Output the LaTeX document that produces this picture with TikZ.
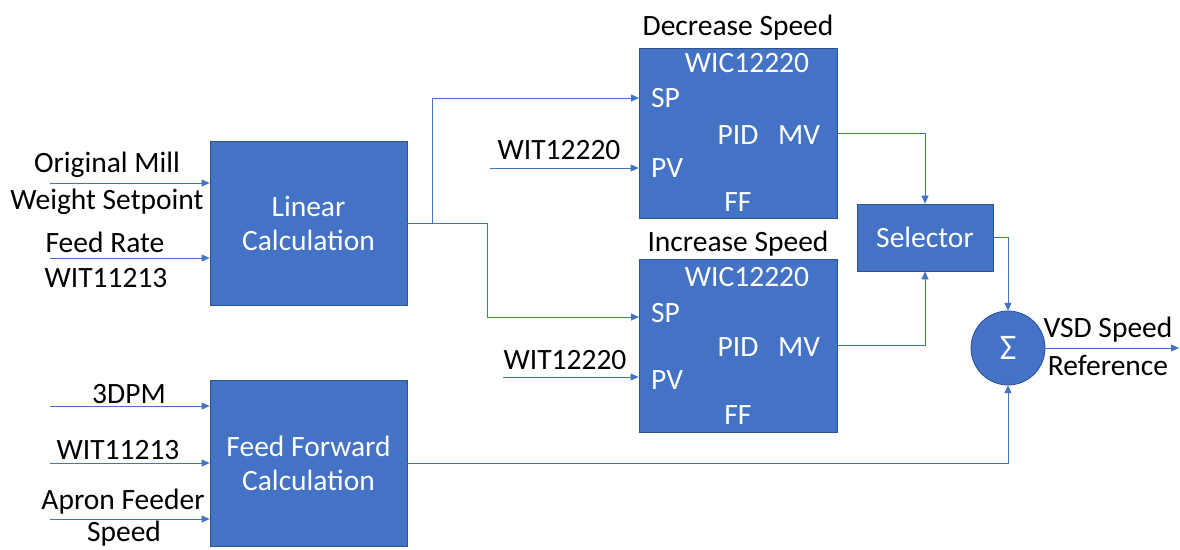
\documentclass[tikz,border=0pt]{standalone}
\usepackage{fontspec}
\setmainfont{Carlito}
\usetikzlibrary{arrows.meta}

\definecolor{offblue}{HTML}{4472C4}
\definecolor{offedge}{HTML}{2F528F}

\tikzset{
	blk/.style = {draw = offedge, line width = .8pt, fill = offblue, text = white, align = center, inner sep = 0pt},
	flow/.style = {draw = offblue, line width = .8pt, -{Triangle[length = 8pt, width = 7pt]}},
	wire/.style = {draw = offblue, line width = .8pt},
	lbl/.style = {inner sep = 0pt, align = center},
	port/.style = {inner sep = 0pt, text = white}
}

\begin{document}
\begin{tikzpicture}[x = 1pt, y = -1pt, font = \fontsize{29.5}{34}\selectfont]
	\useasboundingbox (0,0) rectangle (1180,549);
	% blocks
	\node [blk, minimum width = 197, minimum height = 164] (lin) at (308.5,223) {Linear\\Calculation};
	\node [blk, minimum width = 197, minimum height = 166] (ff) at (308.5,463) {Feed Forward\\Calculation};
	\node [blk, minimum width = 198, minimum height = 170] (dpid) at (738,133) {};
	\node [blk, minimum width = 198, minimum height = 173] (ipid) at (738,345.5) {};
	\node [blk, minimum width = 136, minimum height = 67] (sel) at (925,237.5) {Selector};
	\draw [offedge, line width = .8pt, fill = offblue] (1008,348) circle [radius = 37];
	\node [port, minimum size = 74, font = \fontsize{36}{36}\selectfont] (sum) at (1008,348) {Σ};

	% pid ports
	\node [port] (dtag) at (747,63) {WIC12220};
	\node [port, anchor = west] (dsplbl) at (651,98) {SP};
	\node [port] (dpidlbl) at (738,135) {PID};
	\node [port] (dmv) at (799,135) {MV};
	\node [port, anchor = west] (dpvlbl) at (651,168) {PV};
	\node [port] (dfflbl) at (738,202) {FF};
	\node [port] (itag) at (747,277) {WIC12220};
	\node [port, anchor = west] (isplbl) at (651,313) {SP};
	\node [port] (ipidlbl) at (738,347) {PID};
	\node [port] (imv) at (799,347) {MV};
	\node [port, anchor = west] (ipvlbl) at (651,380) {PV};
	\node [port] (ifflbl) at (738,415) {FF};

	% titles
	\node [lbl] (dtitle) at (738,28) {Decrease Speed};
	\node [lbl] (ititle) at (738,244) {Increase Speed};

	% input labels
	\node [lbl] (omlbl) at (107,165) {Original Mill};
	\node [lbl] (wslbl) at (107,202) {Weight Setpoint};
	\node [lbl] (frlbl) at (105,242) {Feed Rate};
	\node [lbl] (wit1lbl) at (106,278) {WIT11213};
	\node [lbl] (dpmlbl) at (129,394) {3DPM};
	\node [lbl] (wit2lbl) at (118,450) {WIT11213};
	\node [lbl] (aflbl) at (123,502) {Apron Feeder};
	\node [lbl] (splbl) at (124,534) {Speed};
	\node [lbl] (wdlbl) at (559,150) {WIT12220};
	\node [lbl] (wilbl) at (565,360) {WIT12220};
	\node [lbl] (vsdlbl) at (1108,330) {VSD Speed};
	\node [lbl] (reflbl) at (1108,365) {Reference};

	% free ends
	\coordinate (in1) at (50,183);
	\coordinate (in2) at (50,258);
	\coordinate (in3) at (50,406);
	\coordinate (in4) at (50,463);
	\coordinate (in5) at (50,519);
	\coordinate (wd) at (490,168);
	\coordinate (wi) at (503,377);
	\coordinate (dsp) at (639,98);
	\coordinate (isp) at (639,317);
	\coordinate (out) at (1179,348);

	% connectors
	\draw [flow] (in1) -- (lin.west |- in1);
	\draw [flow] (in2) -- (lin.west |- in2);
	\draw [flow] (in3) -- (ff.west |- in3);
	\draw [flow] (in4) -- (ff.west |- in4);
	\draw [flow] (in5) -- (ff.west |- in5);
	\draw [flow] (lin.east) -- (432,223) |- (dsp);
	\draw [flow] (lin.east) -| (487,317) -- (isp);
	\draw [flow] (wd) -- (dpid.west |- wd);
	\draw [flow] (wi) -- (ipid.west |- wi);
	\draw [flow] (dpid.east) -| (sel.north);
	\draw [flow] (ipid.east) -| (sel.south);
	\draw [flow] (sel.east) -| (sum.north);
	\draw [flow] (ff.east) -| (sum.south);
	\draw [flow] (sum.east) -- (out);
\end{tikzpicture}
\end{document}
